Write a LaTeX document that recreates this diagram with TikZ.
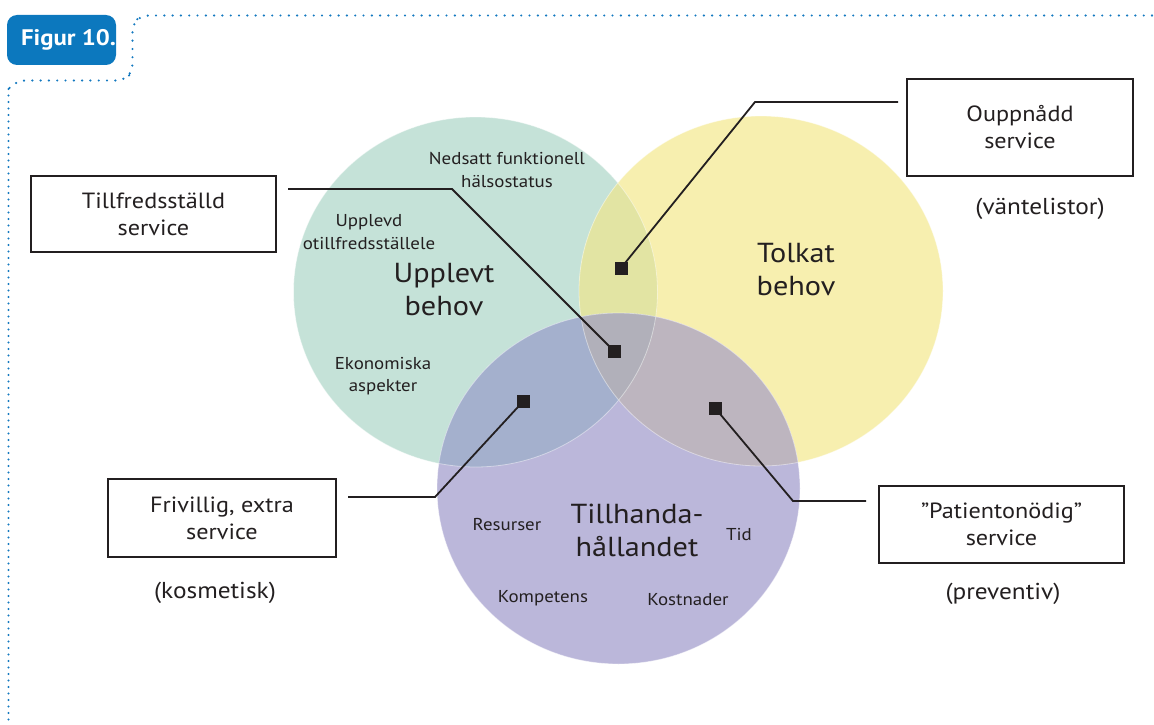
\documentclass[tikz,border=0pt]{standalone}
\usepackage{fontspec}
\setmainfont[FakeStretch=1.1]{PT Sans}
\definecolor{frameblue}{HTML}{1479C0}
\definecolor{tabblue}{HTML}{0C78BE}
\definecolor{cgreen}{HTML}{C5E2D8}
\definecolor{cyellow}{HTML}{F7EFAF}
\definecolor{cpurple}{HTML}{BBB7DA}
\definecolor{cgy}{HTML}{E2E4A3}
\definecolor{cgp}{HTML}{A4B0CD}
\definecolor{cyp}{HTML}{BDB5BF}
\definecolor{cgyp}{HTML}{B1B0BA}
\definecolor{ink}{HTML}{231F20}
% the three need areas
\def\greenarea{(475.5,292) ellipse[x radius=182pt,y radius=175pt]}
\def\yellowarea{(761,291) ellipse[x radius=182pt,y radius=175pt]}
\def\purplearea{(618.5,488.5) ellipse[x radius=181.5pt,y radius=175.5pt]}
\begin{document}
\begin{tikzpicture}[x=1pt,y=-1pt,
  dotline/.style={frameblue,line width=2.4pt,line cap=round,dash pattern=on 0pt off #1},
  infobox/.style={draw=ink,line width=1.3pt,fill=white,align=center,inner sep=0pt,
    font=\fontsize{22}{27}\selectfont,text=ink},
  lead/.style={draw=ink,line width=1.8pt},
  marker/.style={fill=ink,minimum size=13pt,inner sep=0pt,outer sep=0pt},
  smalltxt/.style={align=center,font=\fontsize{17.2}{22.5}\selectfont,text=ink},
  bigtxt/.style={align=center,font=\fontsize{27.5}{33}\selectfont,text=ink},
  note/.style={font=\fontsize{23}{26}\selectfont,text=ink}]
\useasboundingbox (0,0) rectangle (1154,725);

% dotted frame
\draw[dotline=8.3pt,rounded corners=8pt] (1152,15.5) -- (141,15.5) -- (132.5,24) -- (132.5,72) -- (124,80.5) -- (17,80.5) -- (8.5,89);
\draw[dotline=6.5pt] (8.5,89) -- (8.5,725);
\draw[dotline=4pt] (1152,15.5) -- (1154,18);

% title tab
\node[fill=tabblue,rounded corners=10pt,minimum width=109pt,minimum height=50pt,inner sep=0pt] (tab) at (61.5,40) {};
\node[text=white,font=\bfseries\fontsize{22.5}{24}\selectfont,inner sep=0pt] (tabtext) at ([xshift=7pt]tab.center) {Figur 10.};

% areas and their overlaps
\fill[cgreen] \greenarea;
\fill[cyellow] \yellowarea;
\fill[cpurple] \purplearea;
\begin{scope}
  \clip \yellowarea;
  \fill[cyp] \purplearea;
\end{scope}
\begin{scope}
  \clip \greenarea;
  \fill[cgy] \yellowarea;
  \fill[cgp] \purplearea;
  \clip \yellowarea;
  \fill[cgyp] \purplearea;
\end{scope}
\draw[white,opacity=0.45,line width=0.8pt] \greenarea \yellowarea \purplearea;

% boxes
\node[infobox,minimum width=245pt,minimum height=76pt] (bsat) at (153.5,214) {Tillfredsställd\\service};
\node[infobox,minimum width=226pt,minimum height=97pt] (bunmet) at (1020,127.5) {Ouppnådd\\service};
\node[infobox,minimum width=228pt,minimum height=78pt] (bextra) at (222,518) {Frivillig, extra\\service};
\node[infobox,minimum width=245pt,minimum height=77pt] (bprev) at (1001.5,524.5) {”Patientonödig”\\service};

\node[note] (nwait) at (1040,209) {(väntelistor)};
\node[note] (ncos) at (215,593) {(kosmetisk)};
\node[note] (nprev) at (1003,594) {(preventiv)};

% markers
\node[marker] (munmet) at (621,268) {};
\node[marker] (msat) at (614,351) {};
\node[marker] (mextra) at (523.5,401) {};
\node[marker] (mprev) at (715,408) {};

% leader lines
\coordinate (esat) at (288,189);
\coordinate (eunmet) at (898,102);
\coordinate (eextra) at (348,497);
\coordinate (eprev) at (866,501);
\draw[lead] (esat) -- (452,189) -- (msat.center);
\draw[lead] (eunmet) -- (755,102) -- (munmet.center);
\draw[lead] (eextra) -- (435,497) -- (mextra.center);
\draw[lead] (eprev) -- (793,501) -- (mprev.center);
\node[marker] at (munmet) {};
\node[marker] at (msat) {};
\node[marker] at (mextra) {};
\node[marker] at (mprev) {};

% labels inside the areas
\node[smalltxt] (t1) at (507,170) {Nedsatt funktionell\\hälsostatus};
\node[smalltxt] (t2) at (369,232) {Upplevd\\otillfredsställele};
\node[bigtxt] (t3) at (444,290) {Upplevt\\behov};
\node[smalltxt] (t4) at (383,376) {Ekonomiska\\aspekter};
\node[bigtxt] (t5) at (796,270) {Tolkat\\behov};
\node[bigtxt] (t6) at (637,530) {Tillhanda-\\hållandet};
\node[smalltxt] (t7) at (507,525) {Resurser};
\node[smalltxt] (t8) at (739,535) {Tid};
\node[smalltxt] (t9) at (543,598) {Kompetens};
\node[smalltxt] (t10) at (688,600) {Kostnader};
\end{tikzpicture}
\end{document}
